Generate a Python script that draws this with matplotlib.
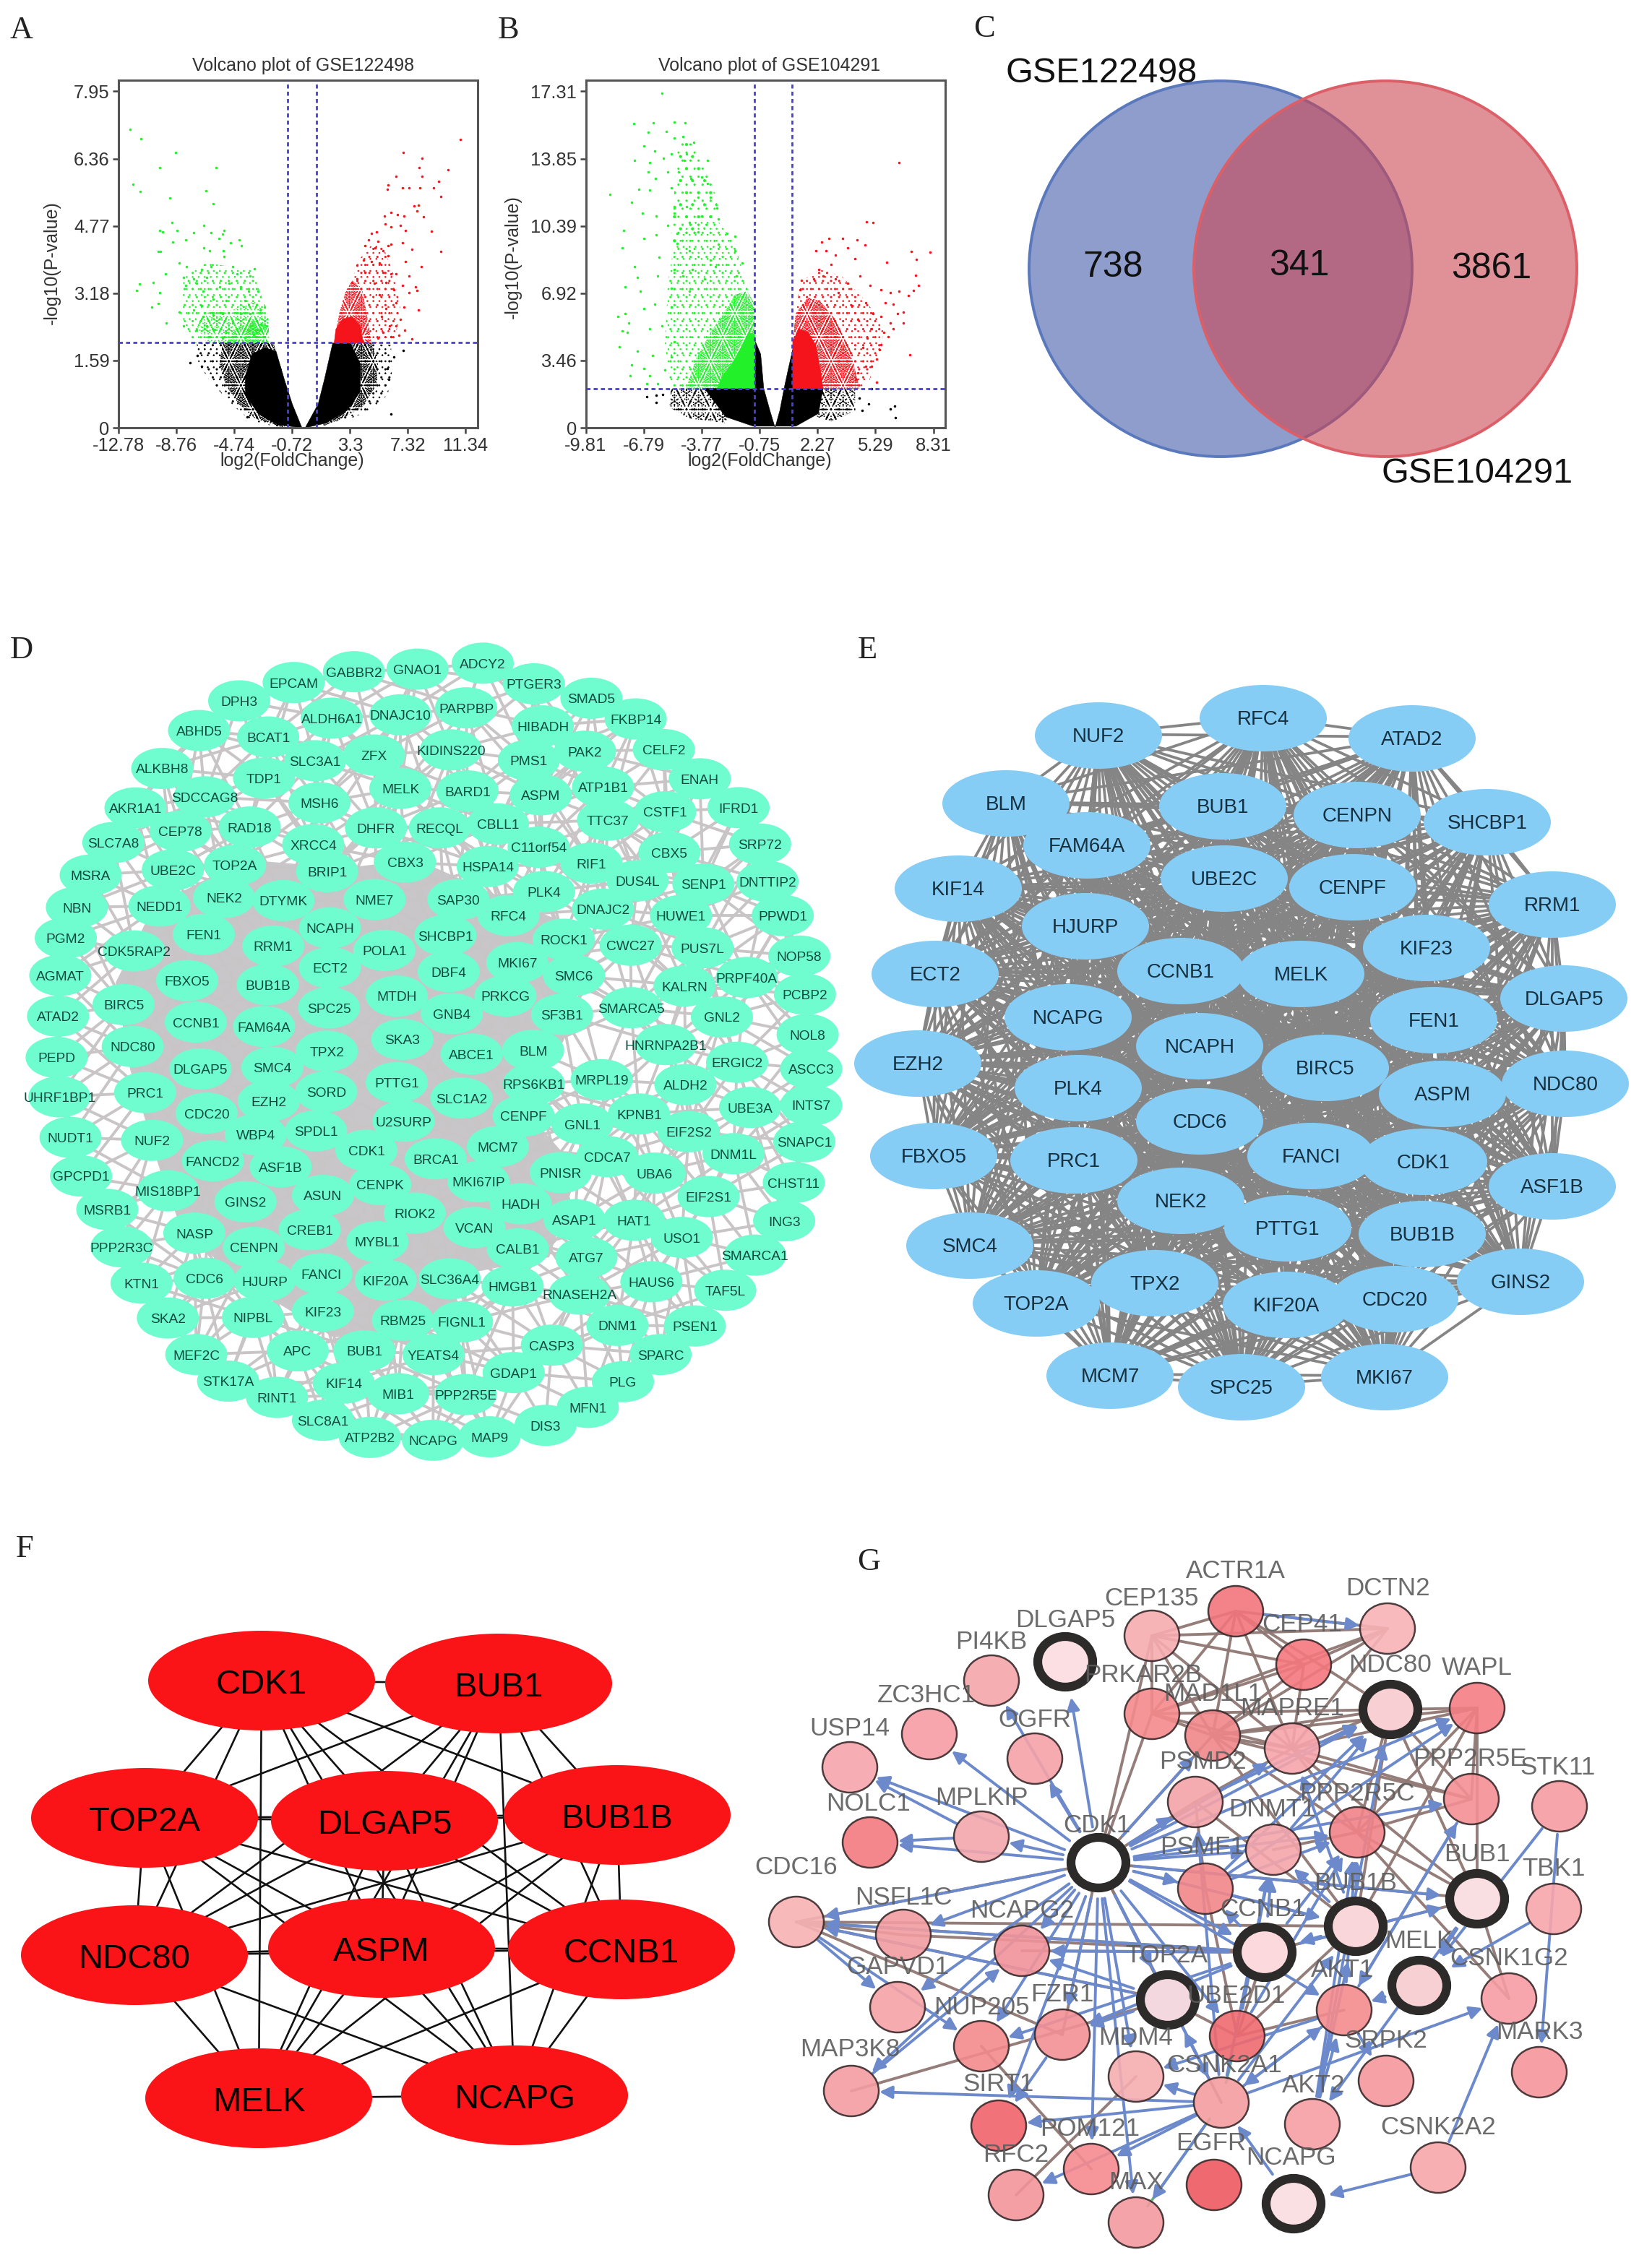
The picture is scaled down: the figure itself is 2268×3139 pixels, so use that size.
import itertools
import matplotlib
matplotlib.use("Agg")
import matplotlib.pyplot as plt
from matplotlib.patches import Ellipse, FancyArrowPatch, Polygon

plt.rcParams['font.family'] = ['Liberation Sans', 'DejaVu Sans']
plt.rcParams['hatch.linewidth'] = 0.3

# ------------------------------------------------------------------ values
A_TITLE = "Volcano plot of GSE122498"
B_TITLE = "Volcano plot of GSE104291"
A_XTICKS = [-12.78, -8.76, -4.74, -0.72, 3.3, 7.32, 11.34]
A_YTICKS = [0, 1.59, 3.18, 4.77, 6.36, 7.95]
B_XTICKS = [-9.81, -6.79, -3.77, -0.75, 2.27, 5.29, 8.31]
B_YTICKS = [0, 3.46, 6.92, 10.39, 13.85, 17.31]

A_GREEN_X = [-12.0,-11.2,-8.8,-9.9,-6.0,-11.8,-11.25,-6.7,-9.2,-6.2,-9.93,-9.7,-9.07,-8.73,-7.57,-6.85,-6.33,-5.43,-5.55,-5.8,-4.98,-8.13,-9.03,-4.42,-4.24,-6.85,-6.44,-10.04,-9.88,-5.5,-5.45,-8.58,-8.06,-6.33,-7.0,-3.36,-4.87,-9.54,-4.53,-8.24,-7.57,-6.67,-11.34,-10.38,-11.5,-9.93,-8.13,-7.34,-6.89,-5.77,-5.1,-4.31,-3.63,-3.75,-3.07,-10.49,-10.04,-9.48,-8.58,-7.57,-7.0,-6.22,-5.32,-3.97,-6.89,-6.22,-5.55,-4.87,-4.31,-3.63,-2.96,-2.62,-8.24,-7.34,-6.67,-6.11,-5.32,-4.53,-3.75,-3.18,-2.51,-6.44,-5.55,-4.64,-3.97,-3.3,-2.73,-3.2,-3.0,-3.4,-3.6,-2.9]
A_GREEN_Y = [7.06,6.83,6.5,6.15,6.15,5.75,5.58,5.6,5.43,5.3,4.67,4.63,4.85,4.67,4.61,4.78,4.61,4.67,4.57,4.47,4.37,4.44,4.39,4.44,4.3,4.26,4.19,4.16,4.16,4.19,4.04,3.89,3.81,3.8,3.74,3.76,3.81,3.63,3.63,3.56,3.52,3.56,3.39,3.44,3.24,3.19,3.37,3.41,3.22,3.33,3.41,3.33,3.59,3.22,3.22,2.85,2.94,2.48,2.74,2.78,2.89,3.04,3.0,3.0,2.63,2.67,2.7,2.48,2.7,2.7,2.78,2.85,2.41,2.3,2.41,2.33,2.26,2.33,2.3,2.33,2.41,2.15,2.11,2.15,2.13,2.15,2.15,2.25,2.3,2.2,2.4,2.45]
A_RED_X = [10.97,7.0,8.32,8.12,10.1,6.48,8.32,9.45,5.92,5.87,6.97,7.42,8.16,9.13,9.62,7.76,8.07,7.94,8.41,5.69,6.14,6.59,7.04,5.74,6.14,6.82,7.15,8.97,5.13,4.79,4.57,5.24,4.34,5.02,5.93,6.16,6.95,7.6,9.62,5.58,5.92,4.23,4.79,5.35,3.78,7.15,8.23,6.16,6.5,5.58,4.34,7.38,3.46,3.78,5.0,5.8,6.93,7.85,6.37,7.96,7.4,5.35,6.48,7.04,8.07,5.8,5.47,6.82,6.04,6.48,7.1,5.58,6.14,7.6,6.7,5.24]
A_RED_Y = [6.81,6.5,6.37,6.15,6.1,5.94,5.94,5.83,5.74,5.64,5.67,5.67,5.67,5.67,5.46,5.24,5.26,5.13,4.99,5.01,5.09,5.04,5.0,4.81,4.74,4.78,4.67,4.64,4.63,4.59,4.44,4.41,4.3,4.26,4.3,4.33,4.37,4.22,4.16,4.19,4.07,3.96,3.93,3.89,3.85,3.93,3.81,3.63,3.63,3.67,3.67,3.59,3.44,3.52,3.41,3.44,3.37,3.33,3.26,3.24,3.19,3.15,2.96,2.85,2.78,2.81,2.63,2.56,2.41,2.41,2.31,2.26,2.15,2.1,2.19,2.11]
A_BLACK_X = [6.14,-7.8,6.98,6.34,-3.86,-7.3,-7.0,5.9,6.0]
A_BLACK_Y = [0.33,1.53,1.83,1.67,0.26,1.7,1.45,1.4,1.15]

B_GREEN_X = [-5.84,-7.3,-6.27,-5.2,-4.62,-6.55,-5.6,-4.73,-5.2,-4.17,-6.79,-6.2,-5.36,-4.57,-3.46,-7.26,-6.47,-5.76,-4.65,-6.55,-5.52,-4.97,-4.33,-3.78,-3.46,-6.19,-7.03,-8.53,-6.47,-5.36,-7.42,-3.94,-3.3,-5.2,-4.57,-6.87,-5.2,-2.98,-3.78,-6.15,-2.9,-4.41,-5.52,-7.82,-6.79,-6.15,-5.05,-3.94,-2.43,-2.03,-7.9,-5.05,-4.41,-2.9,-2.03,-1.64,-6.0,-3.3,-7.26,-5.2,-4.25,-3.06,-1.95,-4.73,-7.11,-6.07,-3.62,-5.36,-7.74,-6.95,-4.41,-6.23,-8.13,-7.74,-6.79,-5.36,-7.58,-7.9,-6.47,-5.84,-7.66,-8.06,-5.2,-6.31,-7.11,-5.36,-7.42,-6.79,-7.5,-6.47,-5.68,-6.07,-6.63]
B_GREEN_Y = [17.23,15.65,15.69,15.73,15.69,15.19,15.24,14.97,14.92,14.68,14.52,14.23,14.11,14.11,13.76,13.74,13.63,13.87,13.76,13.15,13.15,13.15,12.82,12.9,12.58,12.82,12.26,12.02,12.23,12.34,11.61,11.85,11.85,11.37,11.37,11.05,11.05,11.29,10.89,10.89,10.73,10.56,10.4,10.16,9.76,9.92,10.0,10.08,10.0,9.84,9.27,9.5,9.11,9.43,9.11,8.47,8.79,8.63,8.31,8.15,8.15,8.31,7.82,7.82,7.74,7.82,7.66,7.18,7.26,7.02,7.02,6.37,5.73,5.89,6.13,6.21,5.4,5.0,5.08,5.24,4.92,4.15,4.44,3.71,3.95,3.63,3.23,3.06,2.66,2.66,2.98,2.26,2.26]
B_RED_X = [6.52,4.81,5.18,2.88,3.59,4.35,2.48,4.75,2.17,2.72,3.85,8.14,7.17,3.2,4.23,7.43,5.89,2.96,2.32,7.4,4.49,3.2,1.45,2.09,2.56,5.02,7.54,3.85,3.35,6.05,6.52,7.29,7.0,1.37,5.57,4.78,5.81,6.21,5.18,6.76,6.45,5.57,4.07,6.76,6.05,4.38,5.73,5.1,6.21,5.97,4.86,5.57,5.49,4.62,7.08,5.34,4.78,4.38,5.1,5.34,4.31]
B_RED_Y = [13.63,10.61,10.56,9.76,9.76,9.68,9.56,9.4,9.11,9.11,9.27,9.03,9.08,8.87,8.71,8.66,8.5,8.39,8.15,7.85,7.82,7.66,7.58,7.66,7.82,7.34,7.34,7.42,6.94,6.94,7.02,7.05,6.82,7.1,7.1,6.45,6.45,6.34,5.89,5.94,5.89,5.73,6.29,5.4,5.4,5.56,4.92,5.08,5.08,4.68,4.6,4.27,4.03,4.11,3.74,3.55,3.15,2.82,3.15,2.34,2.5]
B_BLACK_X = [4.94,6.05,6.29,6.33,-6.63,-6.15,-6.15,4.46,5.1,-5.8,4.6]
B_BLACK_Y = [1.21,0.97,1.1,0.53,1.61,1.66,1.32,1.53,2.0,1.7,0.9]

# dense clouds, read as outlines: (x values, y values)
A_BLACK_CORE = ([-2.62,-3.52,-3.97,-3.97,-3.07,-1.72,-0.04,-0.71,-1.27,-1.84],[1.89,1.74,1.22,0.78,0.33,0.07,0,0.56,1.15,1.81])
A_BLACK_MID = ([-5.54,-5.77,-5.32,-4.42,-3.3,-1.27,-0.87,-1.39,-2.0],[2.0,1.52,1.0,0.56,0.22,0,0.48,1.22,2.0])
A_BLACK_FRINGE = ([-7.34,-7.23,-6.44,-5.32,-4.2,-3.07,-1.27,-0.82,-1.27,-1.95],[2.0,1.52,1.11,0.7,0.33,0.11,0,0.48,1.15,2.0])
A_BLACK_CORE_R = ([0.19,1.09,1.53,2.1,3.33,4.01,4.01,3.11,1.65],[0,0.56,1.15,2.0,2.0,1.52,0.85,0.41,0.11])
A_BLACK_MID_R = ([3.33,4.79,5.24,5.13,4.12,2.55,1.42],[2.0,2.0,1.52,1.0,0.48,0.19,0.04])
A_BLACK_FRINGE_R = ([2.1,6.14,6.25,5.92,5.02,3.67,1.42],[2.0,1.96,1.37,0.78,0.48,0.26,0.07])
A_GREEN_LOOSE = ([-7.57,-8.47,-8.24,-6.67,-3.52,-2.4,-2.29],[2.0,2.7,3.59,3.89,3.74,2.7,2.0])
A_GREEN_MID = ([-6.67,-7.34,-6.67,-4.87,-3.3,-2.4,-2.29],[2.0,2.41,2.78,2.78,3.0,2.63,2.0])
A_GREEN_CORE = ([-5.32,-4.64,-3.3,-2.51,-2.4],[2.0,2.33,2.56,2.41,2.0])
A_RED_CORE = ([2.2,2.32,2.77,3.45,4.01,4.23],[2.0,2.33,2.56,2.63,2.41,2.0])
A_RED_MID = ([2.2,2.55,3.0,3.45,4.12,4.46,4.79],[2.0,2.7,3.22,3.48,3.3,2.7,2.0])
A_RED_LOOSE = ([3.45,3.9,5.02,5.7,6.37,6.82,6.37,3.67],[3.48,3.96,4.41,4.19,3.59,2.78,2.0,2.0])

B_BLACK_CORE = ([-3.62,-1.0,-0.97,-0.69,-0.53,-0.21,0.06,0.31,0.53,0.74,0.98,0.98,2.56,2.32,1.14,-1.08,-2.51],
                [2.02,2.02,4.44,3.79,2.02,0.89,0,0.89,2.02,2.98,4.03,2.02,2.02,0.73,0.08,0.08,0.56])
B_BLACK_LOOSE_L = ([-5.36,-5.44,-4.41,-2.51,-2.03],[2.02,1.05,0.48,0.24,2.02])
B_BLACK_LOOSE_R = ([2.25,4.23,4.23,3.04,2.25],[2.02,2.02,0.89,0.32,0.56])
B_GREEN_CORE = ([-1.0,-0.99,-1.32,-1.72,-2.19,-2.67,-2.98],[2.02,4.76,4.92,4.11,3.31,2.66,2.02])
B_GREEN_MID = ([-1.02,-1.02,-1.4,-2.03,-2.51,-3.3,-4.09,-4.57],[2.02,6.37,7.02,6.85,6.05,4.92,3.47,2.02])
B_GREEN_LOOSE = ([-4.57,-5.36,-5.68,-5.52,-5.2,-4.25,-2.98,-2.03,-1.56,-1.24,-1.02,-1.0],[2.02,2.02,4.27,7.5,9.44,10.73,10.73,9.44,7.82,6.69,5.89,2.02])
B_GREEN_TOP = ([-5.4,-5.0,-4.2,-3.3,-2.9,-3.0,-5.0],[9.4,14.6,14.9,12.9,11.3,10.6,9.5])
B_RED_CORE = ([0.98,0.98,1.3,1.77,2.17,2.4,2.56],[2.02,4.44,5.08,4.92,4.27,3.15,2.02])
B_RED_MID = ([0.98,1.14,1.77,2.4,3.2,3.99,4.46,2.56],[4.44,5.89,6.69,6.53,5.56,3.95,2.02,2.02])
B_RED_LOOSE = ([1.14,1.37,2.4,3.51,4.78,5.73,5.57,4.94,4.46],[5.89,7.5,8.15,7.82,6.53,5.24,3.95,2.34,2.02])

VENN_LEFT_ONLY, VENN_SHARED, VENN_RIGHT_ONLY = 738, 341, 3861
VENN_NAMES = ["GSE122498", "GSE104291"]

E_GENES = "NUF2 RFC4 ATAD2 BLM BUB1 CENPN SHCBP1 FAM64A UBE2C CENPF KIF14 RRM1 HJURP KIF23 ECT2 CCNB1 MELK DLGAP5 NCAPG FEN1 NCAPH BIRC5 NDC80 EZH2 ASPM PLK4 CDC6 FBXO5 PRC1 FANCI CDK1 ASF1B NEK2 PTTG1 SMC4 BUB1B GINS2 TPX2 CDC20 KIF20A TOP2A MCM7 SPC25 MKI67".split()
F_GENES = "CDK1 BUB1 TOP2A DLGAP5 BUB1B NDC80 ASPM CCNB1 MELK NCAPG".split()

G_HUBS = "DLGAP5 NDC80 BUB1 BUB1B CCNB1 MELK TOP2A CDK1 NCAPG".split()
G_BLUE = [("CDK1",t) for t in "DLGAP5 PI4KB OGFR ZC3HC1 USP14 NOLC1 MPLKIP CDC16 NSFL1C NCAPG2 GAPVD1 NUP205 FZR1 SIRT1 MAP3K8 POM121 MAX MDM4 CSNK2A1 PPP2R5C PPP2R5E NDC80 WAPL BUB1 BUB1B CCNB1 TOP2A UBE2D1 AKT1 MAPRE1 DNMT1 PSMF1 PSMD2 MAD1L1".split()] + [
    ("MPLKIP","NOLC1"),("MPLKIP","USP14"),("CCNB1","CDC16"),("CCNB1","NCAPG2"),("CCNB1","FZR1"),("CCNB1","PPP2R5C"),("CCNB1","DNMT1"),("CCNB1","BUB1"),("CCNB1","PSMF1"),("CCNB1","NUP205"),
    ("TOP2A","CDC16"),("TOP2A","FZR1"),("TOP2A","NCAPG2"),("CSNK2A1","MAP3K8"),("CSNK2A1","SIRT1"),("CSNK2A1","AKT1"),("CSNK2A1","MDM4"),("CSNK2A1","POM121"),("CSNK2A1","PSMD2"),("CSNK2A1","MAX"),("CSNK2A1","TOP2A"),("CSNK2A1","BUB1B"),("CSNK2A1","CSNK1G2"),("CSNK2A1","DNMT1"),("CSNK2A1","RFC2"),
    ("AKT1","MDM4"),("AKT1","SRPK2"),("AKT1","CSNK2A1"),("AKT1","PPP2R5C"),("AKT1","PPP2R5E"),("AKT2","NDC80"),("AKT2","BUB1B"),("AKT2","PPP2R5C"),("AKT2","AKT1"),("CSNK2A2","CSNK1G2"),("CSNK2A2","NCAPG"),("STK11","MARK3"),("STK11","MELK"),("TBK1","MELK"),("MELK","AKT1"),("BUB1","AKT2"),("BUB1","MELK"),("PPP2R5E","AKT1"),
    ("MAP3K8","NCAPG2"),("BUB1B","PPP2R5C"),("BUB1B","DNMT1"),("BUB1B","CCNB1"),("BUB1B","MAPRE1"),("PSMF1","NDC80"),("PSMF1","WAPL"),("PSMF1","PPP2R5C"),("DNMT1","NDC80"),("PSMD2","NDC80"),("PSMF1","BUB1B"),("UBE2D1","PPP2R5C"),("UBE2D1","DNMT1"),("NCAPG","CSNK2A1"),("FZR1","SIRT1"),("CDC16","GAPVD1"),("CDC16","NUP205"),
    ("ACTR1A","DCTN2")]
G_BROWN = [("CDK1",t) for t in "CEP135 PRKAR2B MAD1L1 TOP2A BUB1 FZR1 CSNK2A1".split()] + [
    ("CEP135","ACTR1A"),("CEP135","MAD1L1"),("CEP135","DCTN2"),("CEP135","CEP41"),("CEP135","PRKAR2B"),("CEP135","MAPRE1"),("ACTR1A","DCTN2"),("ACTR1A","CEP41"),("ACTR1A","PRKAR2B"),("ACTR1A","MAPRE1"),("ACTR1A","NDC80"),("ACTR1A","MAD1L1"),("CEP41","PRKAR2B"),("CEP41","DCTN2"),("CEP41","MAPRE1"),("CEP41","MAD1L1"),("DCTN2","MAD1L1"),("DCTN2","MAPRE1"),("DCTN2","PRKAR2B"),("PRKAR2B","MAD1L1"),("PRKAR2B","MAPRE1"),("PRKAR2B","NDC80"),
    ("MAD1L1","NDC80"),("MAD1L1","WAPL"),("MAD1L1","BUB1B"),("MAD1L1","PPP2R5E"),("MAD1L1","MAPRE1"),("MAD1L1","PPP2R5C"),("MAPRE1","NDC80"),("MAPRE1","WAPL"),("MAPRE1","PPP2R5E"),("MAPRE1","BUB1"),("MAPRE1","PPP2R5C"),("NDC80","WAPL"),("NDC80","BUB1"),("NDC80","PPP2R5E"),("NDC80","BUB1B"),("NDC80","PPP2R5C"),("WAPL","PPP2R5E"),("WAPL","BUB1"),("WAPL","BUB1B"),("WAPL","PPP2R5C"),("BUB1","CSNK1G2"),("PPP2R5C","PPP2R5E"),("PPP2R5C","BUB1"),("PPP2R5C","CSNK1G2"),("DNMT1","PPP2R5C"),("PSMD2","PSMF1"),("PSMD2","BUB1B"),("PSMD2","MAPRE1"),("PSMD2","CDK1"),("PSMF1","UBE2D1"),
    ("CDC16","CDK1"),("CDC16","CCNB1"),("CDC16","TOP2A"),("CDC16","BUB1B"),("CDC16","FZR1"),("CDC16","NSFL1C"),("NSFL1C","CCNB1"),("MAP3K8","TOP2A"),("NUP205","POM121"),("RFC2","MDM4"),("UBE2D1","BUB1B"),("UBE2D1","AKT1"),("CCNB1","BUB1"),("TOP2A","UBE2D1"),("NCAPG2","CCNB1"),("UBE2D1","CCNB1")]
G_GREEN = [("MAX","CSNK2A1"),("CSNK2A1","UBE2D1")]

# ------------------------------------------------------------------ layout (picture units, 1134 wide)
def tl(x, y): return (x/5.227, 430+y/5.6)
def tr(x, y): return (290+x/5.227, 430+y/5.6)
def bl(x, y): return (x/5.227, 710+y/5.058)
def br(x, y): return (290+x/5.227, 710+y/5.058)

D_LAYOUT = {
 "EPCAM":tl(1062,237),"GABBR2":tl(1280,195),"GNAO1":tl(1510,185),"DPH3":tl(865,308),"ALDH6A1":tl(1200,375),"DNAJC10":tl(1448,362),"ABHD5":tl(720,423),"BCAT1":tl(970,448),"SLC3A1":tl(1140,540),"ZFX":tl(1353,518),"ALKBH8":tl(587,570),"TDP1":tl(955,607),"SDCCAG8":tl(740,680),"MELK":tl(1448,647),"MSH6":tl(1155,703),"AKR1A1":tl(490,723),"RAD18":tl(903,797),"DHFR":tl(1360,800),"CEP78":tl(653,813),"SLC7A8":tl(410,857),"XRCC4":tl(1133,865),"CBX3":tl(1465,933),"TOP2A":tl(850,945),"BRIP1":tl(1183,970),"UBE2C":tl(625,963),"MSRA":tl(328,983),"NEK2":tl(810,1070),"DTYMK":tl(1025,1082),"NME7":tl(1355,1078),"NEDD1":tl(577,1103),"NBN":tl(278,1108),"NCAPH":tl(1193,1188),"FEN1":tl(737,1213),"PGM2":tl(238,1227),"RRM1":tl(988,1258),"POLA1":tl(1390,1275),"CDK5RAP2":tl(485,1277),"ECT2":tl(1193,1342),"AGMAT":tl(218,1372),"FBXO5":tl(677,1392),"BUB1B":tl(968,1408),"MTDH":tl(1435,1452),"BIRC5":tl(447,1485),"SPC25":tl(1190,1497),"ATAD2":tl(210,1530),"CCNB1":tl(708,1553),"FAM64A":tl(955,1570),
 "ADCY2":tr(230,162),"PTGER3":tr(415,242),"SMAD5":tr(623,298),"PARPBP":tr(170,335),"HIBADH":tr(447,405),"FKBP14":tr(783,378),"PAK2":tr(600,503),"CELF2":tr(885,497),"PMS1":tr(397,538),"KIDINS220":tr(115,498),"ENAH":tr(1015,610),"ATP1B1":tr(665,642),"BARD1":tr(175,657),"ASPM":tr(440,672),"IFRD1":tr(1155,722),"CSTF1":tr(890,738),"TTC37":tr(683,770),"CBLL1":tr(285,785),"RECQL":tr(75,800),"SRP72":tr(1233,863),"C11orf54":tr(432,875),"CBX5":tr(905,895),"RIF1":tr(623,937),"HSPA14":tr(248,950),"DUS4L":tr(790,1005),"SENP1":tr(1028,1018),"DNTTIP2":tr(1260,1008),"PLK4":tr(452,1047),"SAP30":tr(142,1078),"DNAJC2":tr(665,1115),"HUWE1":tr(947,1140),"PPWD1":tr(1315,1140),"RFC4":tr(323,1140),"SHCBP1":tr(95,1217),"ROCK1":tr(523,1232),"CWC27":tr(765,1255),"PUS7L":tr(1025,1265),"NOP58":tr(1375,1297),"MKI67":tr(355,1322),"DBF4":tr(107,1357),"SMC6":tr(560,1372),"PRPF40A":tr(1185,1380),"KALRN":tr(960,1413),"PCBP2":tr(1395,1445),"PRKCG":tr(312,1452),"SMARCA5":tr(767,1497),"GNB4":tr(118,1520),"SF3B1":tr(517,1523),"GNL2":tr(1095,1533),
 "NDC80":bl(480,72),"SKA3":bl(1455,47),"PEPD":bl(205,110),"TPX2":bl(1182,88),"DLGAP5":bl(725,150),"SMC4":bl(985,145),"PTTG1":bl(1435,198),"PRC1":bl(525,233),"SORD":bl(1180,230),"UHRF1BP1":bl(215,248),"EZH2":bl(972,263),"CDC20":bl(747,305),"U2SURP":bl(1460,333),"SPDL1":bl(1143,367),"WBP4":bl(925,380),"NUDT1":bl(255,390),"NUF2":bl(550,400),"CDK1":bl(1325,435),"FANCD2":bl(770,472),"ASF1B":bl(1015,493),"GPCPD1":bl(293,525),"CENPK":bl(1375,555),"MIS18BP1":bl(608,577),"GINS2":bl(888,615),"ASUN":bl(1168,593),"MSRB1":bl(388,642),"RIOK2":bl(1500,655),"CREB1":bl(1120,713),"NASP":bl(703,725),"MYBL1":bl(1365,755),"PPP2R3C":bl(440,773),"CENPN":bl(918,775),"FANCI":bl(1162,867),"CDC6":bl(740,883),"HJURP":bl(957,892),"KIF20A":bl(1395,890),"KTN1":bl(512,900),"KIF23":bl(1168,998),"NIPBL":bl(915,1020),"SKA2":bl(607,1022),"RBM25":bl(1457,1030),"APC":bl(1077,1137),"BUB1":bl(1318,1137),"MEF2C":bl(710,1150),"KIF14":bl(1243,1250),"STK17A":bl(825,1243),"MIB1":bl(1440,1287),"RINT1":bl(1002,1300),"SLC8A1":bl(1168,1380),"ATP2B2":bl(1338,1440),
 "YEATS4":br(52,1150),"NCAPG":br(50,1450),"NOL8":br(1405,30),"HNRNPA2B1":br(892,65),"BLM":br(412,85),"ABCE1":br(190,98),"ERGIC2":br(1150,127),"ASCC3":br(1418,150),"MRPL19":br(660,188),"RPS6KB1":br(415,203),"ALDH2":br(963,205),"SLC1A2":br(153,252),"INTS7":br(1418,277),"UBE3A":br(1197,285),"KPNB1":br(795,308),"CENPF":br(378,315),"GNL1":br(590,343),"EIF2S2":br(975,370),"SNAPC1":br(1393,405),"MCM7":br(285,422),"DNM1L":br(1137,447),"CDCA7":br(680,457),"BRCA1":br(60,465),"PNISR":br(512,513),"UBA6":br(852,515),"MKI67IP":br(215,545),"CHST11":br(1355,548),"EIF2S1":br(1047,597),"HADH":br(367,622),"ASAP1":br(562,678),"HAT1":br(777,680),"ING3":br(1320,682),"VCAN":br(200,705),"USO1":br(950,740),"CALB1":br(357,780),"SMARCA1":br(1215,802),"ATG7":br(605,810),"SLC36A4":br(110,885),"HAUS6":br(840,895),"HMGB1":br(338,910),"RNASEH2A":br(580,938),"TAF5L":br(1107,925),"FIGNL1":br(155,1035),"DNM1":br(717,1048),"PSEN1":br(997,1050),"CASP3":br(480,1117),"SPARC":br(873,1150),"GDAP1":br(342,1213),"PLG":br(737,1245),"PPP2R5E":br(168,1290),"MFN1":br(610,1335),"DIS3":br(457,1398),"MAP9":br(255,1438),
}
D_CORE = [(120,620),(170,595),(230,600),(300,600),(345,620),(395,640),(400,700),(365,770),(400,810),(380,870),(330,880),(290,930),(230,925),(165,885),(125,850),(105,790),(90,740),(80,680),(100,640)]

E_LAYOUT = dict(zip(E_GENES, [(760,508),(874,496),(977,510),(696,555),(846,557),(939,563),(1029,568),(752,584),(847,607),(936,613),(663,614),(1074,625),(751,640),(987,655),(647,673),(817,671),(900,673),(1082,690),(739,703),(992,705),(830,723),(917,738),(1083,749),(635,735),(998,756),(746,752),(830,775),(646,799),(743,802),(907,799),(985,803),(1074,820),(817,830),(891,849),(671,861),(984,853),(1052,886),(799,887),(965,898),(890,902),(717,901),(768,951),(859,959),(958,952)]))
F_LAYOUT = dict(zip(F_GENES, [(181,1163),(345,1165),(100,1258),(266,1260),(427,1256),(93,1353),(264,1348),(430,1349),(179,1452),(356,1450)]))

# name: node x, node y, label x, label y, fill
G_LAYOUT = {
 "PI4KB":(686,1163,686,1136,"#f4a6ab"),"DLGAP5":(737,1150,737,1121,"#fbdfe2"),"CEP135":(797,1132,797,1106,"#f7acb0"),"PRKAR2B":(797,1186,791,1159,"#f58a8c"),"ZC3HC1":(643,1200,641,1173,"#f69da3"),"OGFR":(716,1217,716,1190,"#f4a2a8"),"USP14":(588,1223,588,1196,"#f6a5ac"),"MPLKIP":(679,1271,679,1244,"#f2a6ab"),"NOLC1":(602,1275,601,1248,"#f37a7e"),"CDK1":(760,1289,759,1263,"#ffffff"),"CDC16":(551,1330,551,1292,"#f8b2b4"),"NSFL1C":(625,1339,625,1313,"#f29da0"),"NCAPG2":(707,1350,707,1322,"#f1939a"),"GAPVD1":(621,1389,621,1361,"#f5a2a6"),"TOP2A":(808,1384,807,1353,"#f3d9df"),"FZR1":(735,1408,735,1380,"#f39096"),"NUP205":(679,1416,679,1389,"#f38a8d"),"MDM4":(786,1437,786,1410,"#f6adb0"),"MAP3K8":(589,1447,588,1418,"#f49da2"),"SIRT1":(691,1471,691,1442,"#f1636a"),"POM121":(755,1501,754,1473,"#f58b90"),"RFC2":(703,1519,703,1491,"#f39599"),"MAX":(786,1538,786,1510,"#f39a9f"),
 "ACTR1A":(855,1115,855,1087,"#f2757c"),"DCTN2":(960,1127,960,1099,"#f9b3b6"),"CEP41":(902,1152,901,1124,"#f4787e"),"NDC80":(962,1183,962,1152,"#f8d0d4"),"WAPL":(1022,1182,1022,1154,"#f47f84"),"MAD1L1":(839,1201,839,1172,"#f0878a"),"MAPRE1":(894,1210,894,1182,"#f7a5ab"),"PSMD2":(827,1247,832,1219,"#f4a3a8"),"PPP2R5E":(1018,1245,1017,1217,"#f48f94"),"STK11":(1079,1250,1078,1223,"#f69ca2"),"PPP2R5C":(939,1268,939,1241,"#f18388"),"DNMT1":(881,1280,880,1252,"#f4a5aa"),"PSMF1":(834,1307,832,1278,"#f2868a"),"BUB1":(1022,1314,1022,1283,"#f9dfe2"),"TBK1":(1075,1321,1075,1293,"#f7a6ac"),"BUB1B":(938,1333,938,1303,"#f8d6d9"),"CCNB1":(875,1351,874,1321,"#fbd9dc"),"MELK":(982,1374,982,1343,"#f7d0d4"),"CSNK1G2":(1044,1383,1044,1355,"#f59da3"),"AKT1":(930,1391,929,1363,"#f48b8e"),"UBE2D1":(856,1409,855,1381,"#ef6a70"),"SRPK2":(959,1440,959,1412,"#f5979d"),"MARK3":(1065,1434,1065,1406,"#f5959a"),"CSNK2A1":(845,1455,847,1429,"#f39da0"),"AKT2":(908,1470,909,1443,"#f59fa4"),"CSNK2A2":(995,1500,995,1472,"#f7a6aa"),"NCAPG":(895,1525,893,1493,"#fbe0e3"),"EGFR":(840,1512,838,1483,"#ee5a60"),
}
LETTERS = {"A":(15,21),"B":(352,21),"C":(681,20),"D":(15,450),"E":(600,450),"F":(17,1072),"G":(601,1081)}

# ------------------------------------------------------------------ figure
W, H = 2268, 3139
DPI = 200
fig = plt.figure(figsize=(W/DPI, H/DPI), dpi=DPI, facecolor="white")
ov = fig.add_axes([0, 0, 1, 1])
ov.set_xlim(0, W/2); ov.set_ylim(H/2, 0); ov.axis("off")

for k, (x, y) in LETTERS.items():
    ov.text(x, y, k, family=["Liberation Serif"], fontsize=16, color="#222222", ha="center", va="center")

SPARSE = ("..",  "...")
LOOSE = ("...", "....")
MID = ("...", "....", ".....", ".......")
THICK = ("...", "....", ".....", "......", ".......", "........", ".........")

# ---------- volcano panels
def volcano(rect, title, xt, yt, xlim, ylim, vl, hl, fills, scat, tx, lx, ly, ypad):
    ax = fig.add_axes([rect[0]/W, 1-rect[3]/H, (rect[2]-rect[0])/W, (rect[3]-rect[1])/H])
    ax.set_xlim(*xlim); ax.set_ylim(*ylim)
    for (poly, color, stack) in fills:
        if stack is None:
            ax.fill(poly[0], poly[1], facecolor=color, edgecolor=color, lw=0.2, zorder=2.2)
        else:
            for h in stack:
                ax.fill(poly[0], poly[1], facecolor="none", edgecolor=color, hatch=h, lw=0, zorder=2)
    for (sx, sy, c) in scat:
        ax.scatter(sx, sy, s=1.6, c=c, lw=0, zorder=3)
    for v in vl:
        ax.axvline(v, color="#4a3fd6", lw=1.0, ls=(0, (2, 1.6)), zorder=4)
    ax.axhline(hl, color="#4a3fd6", lw=1.0, ls=(0, (2, 1.6)), zorder=4)
    ax.set_xticks(xt); ax.set_yticks(yt)
    ax.set_xticklabels([f"{t:g}" for t in xt]); ax.set_yticklabels([f"{t:g}" for t in yt])
    ax.tick_params(length=3, width=0.9, color="#444444", labelcolor="#333333", labelsize=9.2, pad=1.5)
    for s in ax.spines.values():
        s.set_color("#555555"); s.set_linewidth(1.1)
    ax.set_title(title, fontsize=9, color="#333333", pad=4.5, x=tx)
    ax.set_xlabel("log2(FoldChange)", fontsize=9, color="#333333", labelpad=-1, x=lx)
    ax.set_ylabel("-log10(P-value)", fontsize=9, color="#333333", labelpad=ypad, y=ly)
    return ax

GRN, RED, BLK = "#22f12a", "#f5141c", "#000000"
volcano((164, 110.6, 661, 592), A_TITLE, A_XTICKS, A_YTICKS, (-12.78, 12.17), (0, 8.22),
        [-1.03, 0.99], 2.01,
        [(A_BLACK_FRINGE, BLK, LOOSE), (A_BLACK_MID, BLK, THICK), (A_BLACK_FRINGE_R, BLK, LOOSE), (A_BLACK_MID_R, BLK, THICK),
         (A_BLACK_CORE, BLK, None), (A_BLACK_CORE_R, BLK, None),
         (A_GREEN_LOOSE, GRN, LOOSE), (A_GREEN_MID, GRN, MID), (A_GREEN_CORE, GRN, THICK),
         (A_RED_LOOSE, RED, LOOSE), (A_RED_MID, RED, THICK), (A_RED_CORE, RED, None)],
        [(A_GREEN_X, A_GREEN_Y, GRN), (A_RED_X, A_RED_Y, RED), (A_BLACK_X, A_BLACK_Y, BLK)],
        0.515, 0.483, 0.474, 6.5)
volcano((810.5, 110.6, 1308, 592), B_TITLE, B_XTICKS, B_YTICKS, (-9.81, 8.93), (0, 17.9),
        [-1.03, 0.96], 2.02,
        [(B_BLACK_LOOSE_L, BLK, MID), (B_BLACK_LOOSE_R, BLK, MID), (B_BLACK_CORE, BLK, None),
         (B_GREEN_TOP, GRN, SPARSE), (B_GREEN_LOOSE, GRN, LOOSE), (B_GREEN_MID, GRN, THICK), (B_GREEN_CORE, GRN, None),
         (B_RED_LOOSE, RED, LOOSE), (B_RED_MID, RED, THICK), (B_RED_CORE, RED, None)],
        [(B_GREEN_X, B_GREEN_Y, GRN), (B_RED_X, B_RED_Y, RED), (B_BLACK_X, B_BLACK_Y, BLK)],
        0.51, 0.484, 0.491, 4.5)

# ---------- Venn
ov.add_patch(Ellipse((844.5, 186), 265, 260, fc=(0.27, 0.36, 0.68, 0.6), ec="#5a78bc", lw=1.4, zorder=2))
ov.add_patch(Ellipse((958.5, 186), 265, 260, fc=(0.80, 0.28, 0.32, 0.6), ec="#dc5f68", lw=1.4, zorder=3))
vt = dict(color="#111111", ha="center", va="center", zorder=5)
ov.text(762, 51, VENN_NAMES[0], fontsize=17.5, **vt)
ov.text(1022, 328, VENN_NAMES[1], fontsize=17.5, **vt)
ov.text(770, 185, str(VENN_LEFT_ONLY), fontsize=18, **vt)
ov.text(899, 184, str(VENN_SHARED), fontsize=18, **vt)
ov.text(1032, 186, str(VENN_RIGHT_ONLY), fontsize=18, **vt)

# ---------- D network
ov.add_patch(Polygon(D_CORE, closed=True, fc="#c8c6c8", ec="none", zorder=1))
names = list(D_LAYOUT)
for a, b in itertools.combinations(names, 2):
    xa, ya = D_LAYOUT[a]; xb, yb = D_LAYOUT[b]
    if (xa-xb)**2 + (ya-yb)**2 < 85**2:
        ov.plot([xa, xb], [ya, yb], color="#c9c5c7", lw=1.4, zorder=1.5, solid_capstyle="butt")
for g, (x, y) in D_LAYOUT.items():
    ov.add_patch(Ellipse((x, y), 43, 28.5, fc="#6ffdd0", ec="none", zorder=2))
    ov.text(x, y+1.2, g, fontsize=6.9, color="#0c4a3e", ha="center", va="center", zorder=3)

# ---------- E network
for a, b in itertools.combinations(E_GENES, 2):
    xa, ya = E_LAYOUT[a]; xb, yb = E_LAYOUT[b]
    ov.plot([xa, xb], [ya, yb], color="#858585", lw=1.35, zorder=1.5)
for g in E_GENES:
    x, y = E_LAYOUT[g]
    ov.add_patch(Ellipse((x, y+1), 88, 46, fc="#86cdf6", ec="none", zorder=2))
    ov.text(x, y+2, g, fontsize=10, color="#16303f", ha="center", va="center", zorder=3)

# ---------- F network
for a, b in itertools.combinations(F_GENES, 2):
    xa, ya = F_LAYOUT[a]; xb, yb = F_LAYOUT[b]
    ov.plot([xa, xb], [ya, yb], color="#111111", lw=0.95, zorder=1.5)
for g in F_GENES:
    x, y = F_LAYOUT[g]
    ov.add_patch(Ellipse((x, y), 157, 69, fc="#fb1417", ec="none", zorder=2))
    ov.text(x, y+3, g, fontsize=17, color="#0a0000", ha="center", va="center", zorder=3)

# ---------- G network
def gxy(n): return G_LAYOUT[n][0], G_LAYOUT[n][1]
def shrink(n): return 18 if n in G_HUBS else 14
for a, b in G_BROWN:
    ov.add_patch(FancyArrowPatch(gxy(a), gxy(b), arrowstyle="-", color="#8f7773", lw=1.4,
                                 shrinkA=0, shrinkB=0, zorder=4, alpha=0.95))
for a, b in G_BLUE:
    ov.add_patch(FancyArrowPatch(gxy(a), gxy(b), arrowstyle="-|>", mutation_scale=13, color="#6c8acb", lw=1.4,
                                 shrinkA=shrink(a), shrinkB=shrink(b), zorder=4.1))
for a, b in G_GREEN:
    ov.add_patch(FancyArrowPatch(gxy(a), gxy(b), arrowstyle="-", color="#68b07c", lw=1.3,
                                 shrinkA=10, shrinkB=10, zorder=4.05))
for g, (x, y, lx, ly, c) in G_LAYOUT.items():
    if g in G_HUBS:
        ov.add_patch(Ellipse((x, y), 38, 35, fc=c, ec="#2d2a2a", lw=4.4, zorder=5))
    else:
        ov.add_patch(Ellipse((x, y), 38, 35, fc=c, ec="#3a2a2c", lw=0.9, alpha=0.9, zorder=5))
for g, (x, y, lx, ly, c) in G_LAYOUT.items():
    ov.text(lx, ly, g, fontsize=12.6, color="#5c5c5c", alpha=0.9, ha="center", va="center", zorder=6)

fig.savefig("out.png", dpi=DPI, facecolor="white")
